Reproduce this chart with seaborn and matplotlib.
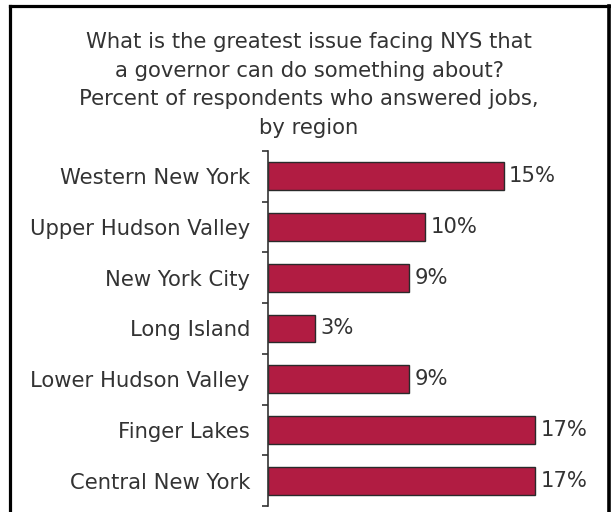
import matplotlib
matplotlib.use("Agg")
import matplotlib.pyplot as plt
from matplotlib.lines import Line2D
import seaborn as sns
import pandas as pd

# Data
regions = ["Western New York", "Upper Hudson Valley", "New York City", "Long Island",
           "Lower Hudson Valley", "Finger Lakes", "Central New York"]
pct_jobs = [15, 10, 9, 3, 9, 17, 17]

title = ("What is the greatest issue facing NYS that\n"
         "a governor can do something about?\n"
         "Percent of respondents who answered jobs,\n"
         "by region")

df = pd.DataFrame({"region": regions, "pct": pct_jobs})

sns.set_style("white")
plt.rcParams['font.family'] = ['DejaVu Sans']

W, H = 611, 512
fig = plt.figure(figsize=(W / 100, H / 100), dpi=100)
ax = fig.add_axes([268 / W, 1 - 506 / H, (582 - 268) / W, (506 - 151) / H])

sns.barplot(data=df, x="pct", y="region", orient="h", color="#B11C42",
            saturation=1, width=0.55, edgecolor="#2a2a2a", linewidth=1, ax=ax)

ax.set_xlim(0, 20)
ax.set_ylim(6.5, -0.5)
ax.set_xlabel("")
ax.set_ylabel("")

for c in ax.containers:
    ax.bar_label(c, labels=[f"{v}%" for v in pct_jobs], padding=4,
                 fontsize=15.2, color="#333333")

# axis look: only the left spine with ticks between categories
for s in ["top", "right", "bottom"]:
    ax.spines[s].set_visible(False)
ax.spines["left"].set_color("#333333")
ax.spines["left"].set_linewidth(1.2)
ax.set_xticks([])
ax.set_yticks(range(len(regions)))
ax.set_yticklabels(regions, fontsize=15.2, color="#333333")
ax.set_yticks([i - 0.5 for i in range(len(regions) + 1)], minor=True)
ax.tick_params(axis="y", which="major", length=0, pad=13)
ax.tick_params(axis="y", which="minor", length=4.5, width=1.2, color="#333333", left=True)

fig.text(309 / W, 1 - 85 / H, title, ha="center", va="center",
         fontsize=15.2, color="#333333", linespacing=1.55)

# frame around the picture (open at the bottom)
lw = 2.3
fig.add_artist(Line2D([9.5 / W, 9.5 / W], [0, 1 - 5.5 / H], color="black", lw=lw,
                      transform=fig.transFigure, solid_capstyle="projecting"))
fig.add_artist(Line2D([9.5 / W, 609 / W], [1 - 5.5 / H, 1 - 5.5 / H], color="black", lw=lw,
                      transform=fig.transFigure, solid_capstyle="projecting"))
fig.add_artist(Line2D([609 / W, 609 / W], [0, 1 - 5.5 / H], color="black", lw=2.6,
                      transform=fig.transFigure, solid_capstyle="projecting"))

plt.savefig("out.png", dpi=100)
